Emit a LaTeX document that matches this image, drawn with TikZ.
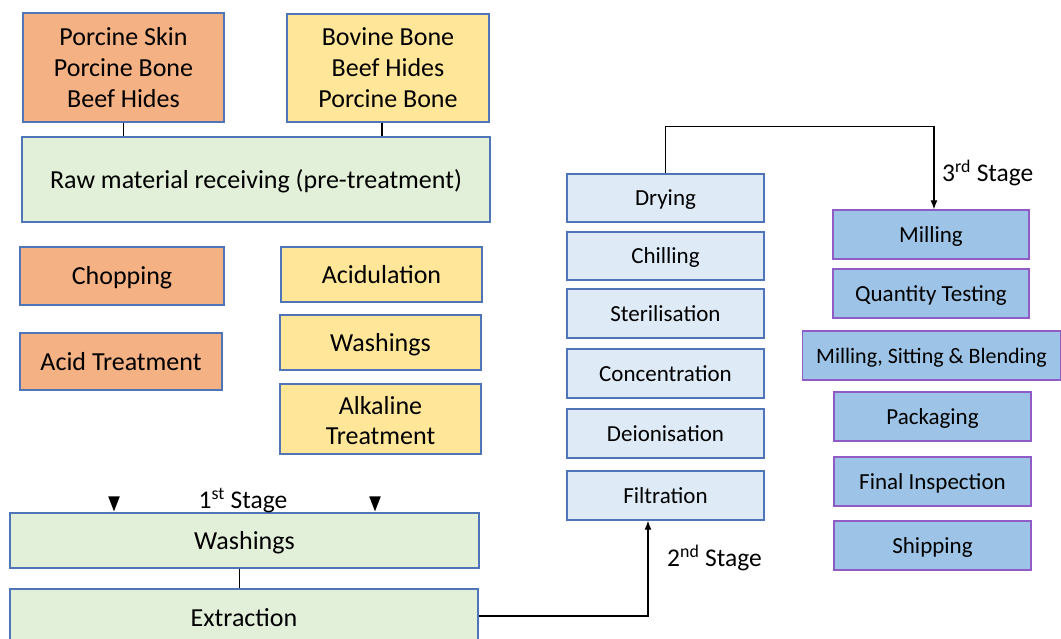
\documentclass[tikz,border=0pt]{standalone}
\usepackage{fontspec}
\setmainfont{Carlito}
\usetikzlibrary{arrows.meta,calc}

\definecolor{borderblue}{HTML}{4F74B8}
\definecolor{borderpurple}{HTML}{8E5CC4}
\definecolor{orangefill}{HTML}{F4B183}
\definecolor{yellowfill}{HTML}{FFE699}
\definecolor{greenfill}{HTML}{E2F0D9}
\definecolor{paleblue}{HTML}{DEEBF7}
\definecolor{midblue}{HTML}{9DC3E6}

\tikzset{
  box/.style={draw=borderblue, line width=1.3pt, inner sep=0pt, align=center, text=black},
  bigtext/.style={font=\fontsize{26}{31}\selectfont, text height=20.5pt, text depth=2.5pt},
  smalltext/.style={font=\fontsize{23}{27}\selectfont, text height=18.3pt, text depth=2.3pt},
  multiline/.style={text height={}, text depth={}},
  orangebox/.style={box, fill=orangefill, bigtext},
  yellowbox/.style={box, fill=yellowfill, bigtext},
  greenbox/.style={box, fill=greenfill, bigtext},
  dryingbox/.style={box, fill=paleblue, minimum width=197pt, minimum height=48pt, smalltext},
  millbox/.style={box, draw=borderpurple, fill=midblue, minimum height=49pt, smalltext},
  link/.style={line width=1.3pt, draw=black},
  flow/.style={link, -{Latex[length=9pt,width=7pt]}},
  stagelabel/.style={font=\fontsize{25.5}{30}\selectfont, inner sep=0pt},
}

\begin{document}
\begin{tikzpicture}[x=1pt, y=-1pt]
\useasboundingbox (0,0) rectangle (1061,639);
\fill[white] (0,0) rectangle (1061,639);

% raw materials and pre-treatment
\node[orangebox, multiline, minimum width=201pt, minimum height=109pt] (porcine) at (123.5,67.5)
  {Porcine Skin\\Porcine Bone\\Beef Hides};
\node[yellowbox, multiline, minimum width=202pt, minimum height=108pt] (bovine) at (388,68)
  {Bovine Bone\\Beef Hides\\Porcine Bone};
\node[greenbox, minimum width=468pt, minimum height=85pt] (raw) at (256,179.5)
  {Raw material receiving (pre-treatment)};

\node[orangebox, minimum width=204pt, minimum height=58pt] (chop) at (122,276) {Chopping};
\node[orangebox, minimum width=202pt, minimum height=57pt] (acid) at (121,361.5) {Acid Treatment};

\node[yellowbox, minimum width=201pt, minimum height=55pt] (acidul) at (381.5,274.5) {Acidulation};
\node[yellowbox, minimum width=201pt, minimum height=55pt] (washA) at (380.5,342.5) {Washings};
\node[yellowbox, multiline, minimum width=201pt, minimum height=70pt, font=\fontsize{26}{30}\selectfont] (alkaline) at (380.5,419)
  {\rule{0pt}{22pt}Alkaline\\Treatment};

% first stage
\node[greenbox, minimum width=469pt, minimum height=55pt] (washB) at (244.5,540.5) {Washings};
\node[greenbox, minimum width=468pt, minimum height=56pt] (extract) at (244,617) {Extraction};
\node[stagelabel] (stage1) at (243,500.5) {1\textsuperscript{st} Stage};

\coordinate (tipL) at ($(washB.north)+(-130.5,-1)$);
\coordinate (tipR) at ($(washB.north)+(130.5,-1)$);
\fill[black] (tipL) -- ++(-5.8,-15) -- ++(11.6,0) -- cycle;
\fill[black] (tipR) -- ++(-5.8,-15) -- ++(11.6,0) -- cycle;

% second stage
\node[dryingbox] (dry) at (665.5,198) {Drying};
\node[dryingbox] (chill) at (665.5,256) {Chilling};
\node[dryingbox, minimum height=49pt] (steril) at (665.5,313.5) {Sterilisation};
\node[dryingbox, minimum height=49pt] (conc) at (665.5,373.5) {Concentration};
\node[dryingbox, minimum height=49pt] (deion) at (665.5,433.5) {Deionisation};
\node[dryingbox, minimum height=49pt] (filt) at (665.5,495.5) {Filtration};
\node[stagelabel, anchor=west] (stage2) at (667,558) {2\textsuperscript{nd} Stage};

% third stage
\node[millbox, minimum width=196pt] (mill) at (931,234.5) {Milling};
\node[millbox, minimum width=196pt] (qtest) at (931,293.5) {Quantity Testing};
\node[millbox, minimum width=258pt, font=\fontsize{22}{26}\selectfont] (msb) at (931.5,355.5) {Milling, Sitting \& Blending};
\node[millbox, minimum width=197pt] (pack) at (932.5,416.5) {Packaging};
\node[millbox, minimum width=197pt] (inspect) at (932.5,481.5) {Final Inspection};
\node[millbox, minimum width=197pt] (ship) at (932.5,545.5) {Shipping};
\node[stagelabel, anchor=west] (stage3) at (942,173) {3\textsuperscript{rd} Stage};

% connectors
\draw[link] (porcine.south) -- (porcine.south |- raw.north);
\draw[link] ([xshift=-6pt]bovine.south) -- ([xshift=-6pt]bovine.south |- raw.north);
\draw[link] ([xshift=-5pt]washB.south) -- ([xshift=-5pt]washB.south |- extract.north);
\draw[flow] (extract.east |- 0,616) -| ([xshift=-17.5pt]filt.south);
\draw[flow] (dry.north) -- ++(0,-47) -| ([xshift=3pt]mill.north);
\end{tikzpicture}
\end{document}
